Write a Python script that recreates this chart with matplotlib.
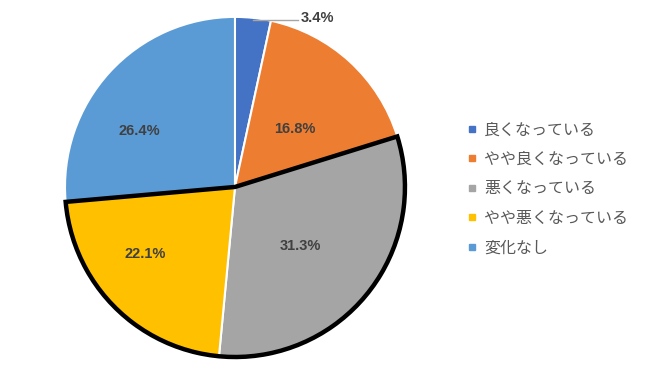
import numpy as np
import matplotlib
matplotlib.use('Agg')
import matplotlib.pyplot as plt
from matplotlib.patches import Wedge
from matplotlib.lines import Line2D

plt.rcParams['font.family'] = ['Noto Sans CJK JP', 'DejaVu Sans']

labels = ['良くなっている', 'やや良くなっている', '悪くなっている', 'やや悪くなっている', '変化なし']
values = [3.4, 16.8, 31.3, 22.1, 26.4]
colors = ['#4472C4', '#ED7D31', '#A5A5A5', '#FFC000', '#5B9BD5']

fig = plt.figure(figsize=(6.5, 3.8), dpi=100)
ax = fig.add_axes([0.1, 0.0605, 0.523, 0.895])

wedges, _ = ax.pie(values, colors=colors, startangle=90, counterclock=False,
                   radius=1.0, wedgeprops=dict(edgecolor='white', linewidth=1.5))
ax.set_xlim(-1, 1)
ax.set_ylim(-1, 1)
ax.set_aspect('auto')

# thick outline around the two "worse" slices
t1 = wedges[3].theta1
t2 = wedges[2].theta2
ax.add_patch(Wedge((0, 0), 1.0, t1, t2, fill=False, edgecolor='black',
                   linewidth=3.2, joinstyle='miter', zorder=5, clip_on=False))

lbl_font = dict(fontsize=10.5, fontweight='bold', color='#404040',
                family=['Liberation Sans', 'DejaVu Sans'])

# data labels
dist = [None, 0.49, 0.52, 0.66, 0.65]
ang_off = [0, -3, -3, -8, 12]
for i, w in enumerate(wedges):
    if i == 0:
        continue
    a = np.deg2rad((w.theta1 + w.theta2) / 2 + ang_off[i])
    ax.text(dist[i] * np.cos(a), dist[i] * np.sin(a), f'{values[i]}%',
            ha='center', va='center', **lbl_font)

# small slice label outside with leader line
w = wedges[0]
a = np.deg2rad((w.theta1 + w.theta2) / 2)
x0, y0 = np.cos(a), np.sin(a)
ax.plot([x0, 0.37], [0.98, 0.98], color='#A5A5A5', linewidth=1, clip_on=False)
ax.text(0.385, 0.995, f'{values[0]}%', ha='left', va='center', **lbl_font)

handles = [Line2D([], [], marker='s', linestyle='none', markersize=5,
                  markerfacecolor=c, markeredgecolor=c) for c in colors]
fig.legend(handles, labels, loc='center left', bbox_to_anchor=(0.697, 0.503),
           frameon=False, fontsize=11.5, labelcolor='#595959',
           handlelength=0.6, handletextpad=0.45, labelspacing=0.78)

fig.savefig('out.png', dpi=100)
